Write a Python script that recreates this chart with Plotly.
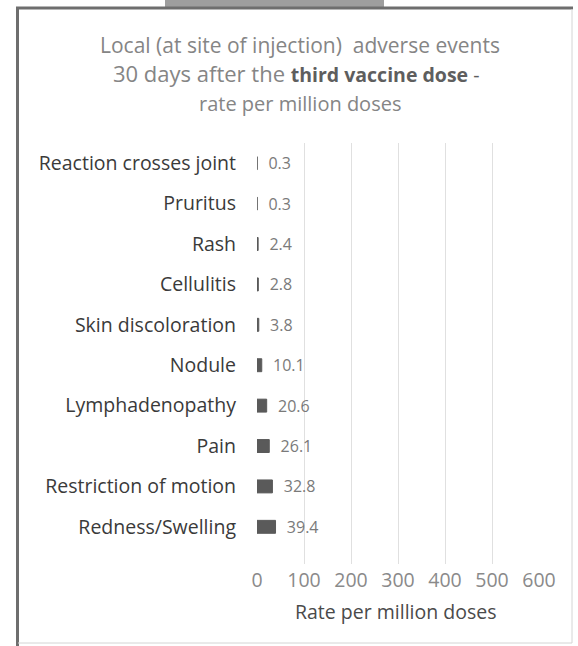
import plotly.graph_objects as go

# Local adverse events, 30 days after the third dose (rate per million doses)
events = [
    "Redness/Swelling",
    "Restriction of motion",
    "Pain",
    "Lymphadenopathy",
    "Nodule",
    "Skin discoloration",
    "Cellulitis",
    "Rash",
    "Pruritus",
    "Reaction crosses joint",
]
rates = [39.4, 32.8, 26.1, 20.6, 10.1, 3.8, 2.8, 2.4, 0.3, 0.3]
x_ticks = [0, 100, 200, 300, 400, 500, 600]

W, H = 578, 646
ML, MR, MT, MB = 257, 39, 143, 82
PW, PH = W - ML - MR, H - MT - MB


def px(x):
    return (x - ML) / PW


def py(y):
    return 1 - (y - MT) / PH


FONT = "Open Sans"
BAR = "#5a5a5a"

fig = go.Figure(
    go.Bar(
        x=rates,
        y=events,
        orientation="h",
        width=0.32,
        marker=dict(color=BAR, line=dict(color=BAR, width=1)),
        text=["  " + f"{v:.1f}" for v in rates],
        textposition="outside",
        constraintext="none",
        cliponaxis=False,
        textfont=dict(family=FONT, size=16, color="#7a7a7a"),
    )
)

shapes = [
    # gray tab at the top
    dict(type="rect", xref="paper", yref="paper",
         x0=px(165), x1=px(384), y0=py(0), y1=py(7),
         fillcolor="#9e9e9e", line=dict(width=0), layer="below"),
    # frame
    dict(type="line", xref="paper", yref="paper",
         x0=px(16), x1=px(573), y0=py(8), y1=py(8),
         line=dict(color="#6e6e6e", width=3)),
    dict(type="line", xref="paper", yref="paper",
         x0=px(17.5), x1=px(17.5), y0=py(8), y1=py(646),
         line=dict(color="#6e6e6e", width=3)),
    dict(type="line", xref="paper", yref="paper",
         x0=px(572), x1=px(572), y0=py(9), y1=py(643),
         line=dict(color="#d4d4d4", width=1)),
    dict(type="line", xref="paper", yref="paper",
         x0=px(18), x1=px(572), y0=py(643), y1=py(643),
         line=dict(color="#d4d4d4", width=1)),
]

annotations = [
    dict(text="Local (at site of injection)  adverse events",
         x=px(300), y=py(45), font=dict(family=FONT, size=21, color="#858585")),
    dict(text="30 days after the <span style='color:#5e5e5e;font-size:19.5px'>"
              "<b>third vaccine dose</b> -</span>",
         x=px(296), y=py(73), font=dict(family=FONT, size=22, color="#858585")),
    dict(text="rate per million doses",
         x=px(300), y=py(104), font=dict(family=FONT, size=20, color="#858585")),
    dict(text="Rate per million doses",
         x=px(395), y=py(611), font=dict(family=FONT, size=19.5, color="#4a4a4a")),
]
for a in annotations:
    a.update(xref="paper", yref="paper", showarrow=False,
             xanchor="center", yanchor="middle")

fig.update_layout(
    width=W,
    height=H,
    margin=dict(l=ML, r=MR, t=MT, b=MB),
    paper_bgcolor="white",
    plot_bgcolor="white",
    showlegend=False,
    shapes=shapes,
    annotations=annotations,
)
fig.update_xaxes(
    range=[0, 600],
    tickvals=x_ticks,
    showgrid=True,
    gridcolor="#e0e0e0",
    gridwidth=1,
    zeroline=False,
    showline=False,
    ticks="",
    ticklabelstandoff=2,
    tickfont=dict(family=FONT, size=19.5, color="#8a8a8a"),
)
fig.update_yaxes(
    range=[-0.92, 9.5],
    showgrid=False,
    zeroline=False,
    showline=False,
    ticks="",
    ticklabelstandoff=20,
    tickfont=dict(family=FONT, size=19.5, color="#3a3a3a"),
)

fig.write_html("out.html")
